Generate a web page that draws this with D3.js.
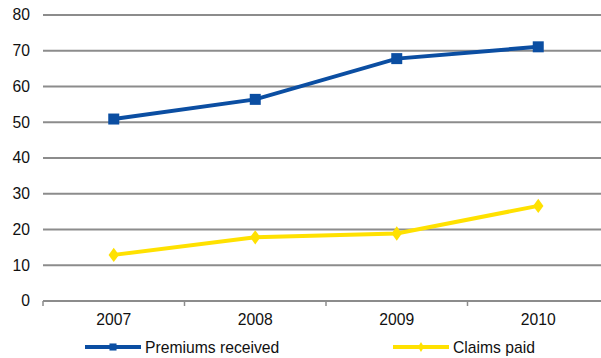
<!DOCTYPE html>
<html>
<head>
<meta charset="utf-8">
<script src="https://cdn.jsdelivr.net/npm/d3@7"></script>
<style>
  html, body { margin: 0; padding: 0; background: #fff; }
  svg { display: block; font-family: "Liberation Sans", Arial, sans-serif; }
</style>
</head>
<body>
<svg id="chart" width="601" height="358"></svg>
<script>
// Chart data
const years = ["2007", "2008", "2009", "2010"];
const premiumsReceived = [50.9, 56.4, 67.8, 71.1];
const claimsPaid = [12.9, 17.8, 18.9, 26.6];
const yTicks = [0, 10, 20, 30, 40, 50, 60, 70, 80];
const seriesNames = ["Premiums received", "Claims paid"];
const seriesColors = ["#0b4ea2", "#ffe100"];

const svg = d3.select("#chart");
const plotLeft = 43, plotRight = 609, plotTop = 15, plotBottom = 301;
const fontSize = 15.7;

const x = d3.scaleBand().domain(years).range([plotLeft, plotRight]);
const y = d3.scaleLinear().domain([0, 80]).range([plotBottom, plotTop]);

// Horizontal gridlines
svg.append("g").selectAll("line").data(yTicks).join("line")
  .attr("x1", plotLeft).attr("x2", 601)
  .attr("y1", d => y(d)).attr("y2", d => y(d))
  .attr("stroke", "#8c8c8c").attr("stroke-width", 2);

// Y tick labels
svg.append("g").selectAll("text").data(yTicks).join("text")
  .attr("x", 30).attr("y", d => y(d)).attr("dy", "0.35em")
  .attr("text-anchor", "end").attr("font-size", fontSize).attr("fill", "#111")
  .text(d => d);

// Category boundary tick marks on the x axis
const boundaries = years.map(d => x(d)).concat([x(years[years.length - 1]) + x.bandwidth()]);
svg.append("g").selectAll("line").data(boundaries).join("line")
  .attr("x1", d => d).attr("x2", d => d)
  .attr("y1", plotBottom).attr("y2", plotBottom + 5)
  .attr("stroke", "#8c8c8c").attr("stroke-width", 1.5);

// X category labels
svg.append("g").selectAll("text").data(years).join("text")
  .attr("x", d => x(d) + x.bandwidth() / 2).attr("y", 325)
  .attr("text-anchor", "middle").attr("font-size", fontSize).attr("fill", "#111")
  .text(d => d);

const cx = d => x(d) + x.bandwidth() / 2;
const line = d3.line().x((d, i) => cx(years[i])).y(d => y(d));

const squareSym = d3.symbol().type(d3.symbolSquare).size(121);
const diamondSym = d3.symbol().type(d3.symbolDiamond).size(60);

// Claims paid
svg.append("path").datum(claimsPaid).attr("d", line)
  .attr("fill", "none").attr("stroke", seriesColors[1]).attr("stroke-width", 4);
svg.append("g").selectAll("path").data(claimsPaid).join("path")
  .attr("d", diamondSym)
  .attr("transform", (d, i) => `translate(${cx(years[i])},${y(d)}) scale(1.25,1)`)
  .attr("fill", seriesColors[1]);

// Premiums received
svg.append("path").datum(premiumsReceived).attr("d", line)
  .attr("fill", "none").attr("stroke", seriesColors[0]).attr("stroke-width", 4);
svg.append("g").selectAll("path").data(premiumsReceived).join("path")
  .attr("d", squareSym)
  .attr("transform", (d, i) => `translate(${cx(years[i])},${y(d)})`)
  .attr("fill", seriesColors[0]);

// Legend
const legendItems = [
  { name: seriesNames[0], color: seriesColors[0], sym: d3.symbol().type(d3.symbolSquare).size(50), x0: 85 },
  { name: seriesNames[1], color: seriesColors[1], sym: d3.symbol().type(d3.symbolDiamond).size(30), x0: 393 }
];
const lg = svg.append("g").selectAll("g").data(legendItems).join("g")
  .attr("transform", d => `translate(${d.x0},347)`);
lg.append("line").attr("x1", 0).attr("x2", 56).attr("y1", 0).attr("y2", 0)
  .attr("stroke", d => d.color).attr("stroke-width", 4);
lg.append("path").attr("d", d => d.sym()).attr("transform", "translate(28,0)")
  .attr("fill", d => d.color);
lg.append("text").attr("x", 60).attr("y", 0).attr("dy", "0.35em")
  .attr("font-size", fontSize).attr("fill", "#111").text(d => d.name);
</script>
</body>
</html>
